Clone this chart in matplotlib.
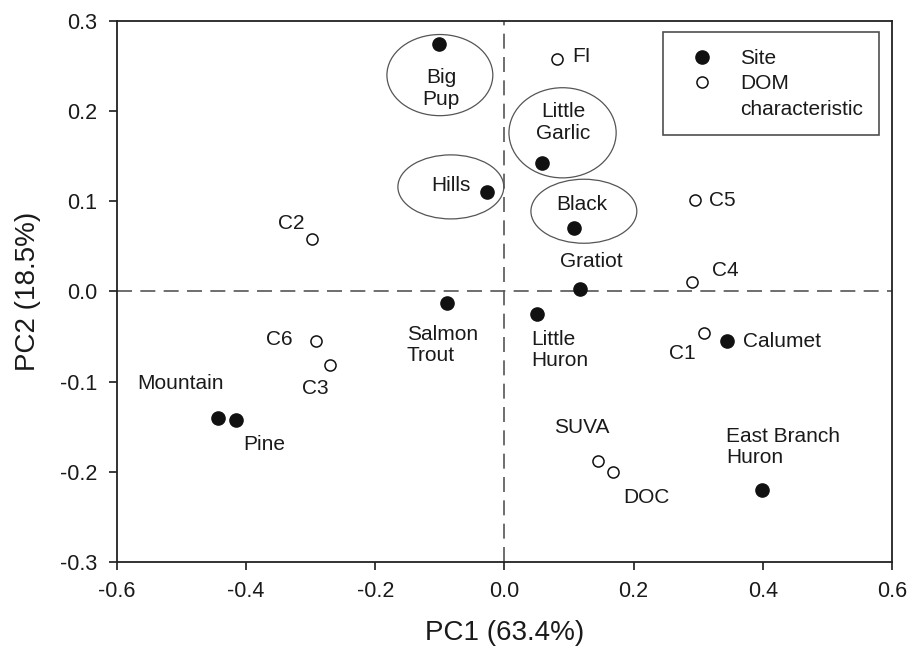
import matplotlib.pyplot as plt
from matplotlib.patches import Ellipse

plt.rcParams['font.family'] = ['Liberation Sans', 'DejaVu Sans']

# site scores
site_names = ["Big\nPup", "Little\nGarlic", "Hills", "Black", "Gratiot", "Salmon\nTrout",
              "Little\nHuron", "Calumet", "Mountain", "Pine", "East Branch\nHuron"]
site_pc1 = [-0.101, 0.058, -0.027, 0.108, 0.117, -0.089, 0.050, 0.345, -0.444, -0.416, 0.399]
site_pc2 = [0.274, 0.142, 0.110, 0.070, 0.003, -0.013, -0.025, -0.055, -0.140, -0.143, -0.220]

# DOM characteristic loadings
dom_names = ["FI", "C5", "C2", "C4", "C1", "C6", "C3", "SUVA", "DOC"]
dom_pc1 = [0.081, 0.295, -0.298, 0.290, 0.309, -0.292, -0.270, 0.145, 0.168]
dom_pc2 = [0.258, 0.101, 0.058, 0.011, -0.046, -0.055, -0.082, -0.188, -0.200]

# label offsets in pixels (dx, dy, ha)
site_lab = [(2, -44, 'center'), (21, 41, 'center'), (-36, 7, 'center'), (8, 24, 'center'),
            (11, 27, 'center'), (-40, -42, 'left'), (-5, -36, 'left'), (16, 0, 'left'),
            (-37, 34, 'center'), (28, -24, 'center'), (-36, 43, 'left')]
dom_lab = [(16, 2, 'left'), (14, 0, 'left'), (-21, 16, 'center'), (20, 11, 'left'),
           (-22, -21, 'center'), (-37, 2, 'center'), (-15, -23, 'center'),
           (-16, 34, 'center'), (34, -26, 'center')]

# grouping ellipses (center x, center y, width, height)
groups = [(-0.100, 0.240, 0.164, 0.090), (0.090, 0.176, 0.166, 0.100),
          (-0.083, 0.116, 0.164, 0.071), (0.123, 0.089, 0.164, 0.071)]

txt = '#1a1a1a'
fig = plt.figure(figsize=(9.17, 6.5), dpi=100)
ax = fig.add_axes([0.1276, 0.1354, 0.845, 0.8323])

ax.axhline(0, color='#555555', lw=1.2, dashes=(9, 5), zorder=1)
ax.axvline(0, color='#555555', lw=1.2, dashes=(9, 5), zorder=1)

for cx, cy, w, h in groups:
    ax.add_patch(Ellipse((cx, cy), w, h, fill=False, ec='#555555', lw=0.9, zorder=1))

ax.plot(site_pc1, site_pc2, 'o', color='#111111', ms=9.5, ls='none', label='Site', zorder=3)
ax.plot(dom_pc1, dom_pc2, 'o', mfc='white', mec='#111111', mew=1.1, ms=8, ls='none',
        label='DOM', zorder=3)
ax.plot([], [], ls='none', marker='', label='characteristic')

for name, x, y, (dx, dy, ha) in zip(site_names, site_pc1, site_pc2, site_lab):
    ax.annotate(name, (x, y), xytext=(dx, dy), textcoords='offset pixels', ha=ha,
                va='center', fontsize=15, color=txt, linespacing=1.15)
for name, x, y, (dx, dy, ha) in zip(dom_names, dom_pc1, dom_pc2, dom_lab):
    ax.annotate(name, (x, y), xytext=(dx, dy), textcoords='offset pixels', ha=ha,
                va='center', fontsize=15, color=txt, linespacing=1.15)

ax.set_xlim(-0.6, 0.6)
ax.set_ylim(-0.3, 0.3)
ax.set_xticks([-0.6, -0.4, -0.2, 0.0, 0.2, 0.4, 0.6])
ax.set_yticks([-0.3, -0.2, -0.1, 0.0, 0.1, 0.2, 0.3])
ax.xaxis.set_major_formatter(plt.FormatStrFormatter('%.1f'))
ax.yaxis.set_major_formatter(plt.FormatStrFormatter('%.1f'))
ax.tick_params(direction='out', length=6, width=1.2, labelsize=15.5, colors=txt, pad=8)
for s in ax.spines.values():
    s.set_linewidth(1.3)
    s.set_color('#222222')

ax.set_xlabel('PC1 (63.4%)', fontsize=20, color=txt, labelpad=13)
ax.set_ylabel('PC2 (18.5%)', fontsize=20, color=txt, labelpad=14)

leg = ax.legend(loc='upper right', bbox_to_anchor=(0.984, 0.979), fontsize=15, frameon=True,
                fancybox=False, edgecolor='#222222', handletextpad=0.7, borderpad=0.8,
                labelspacing=0.3, handlelength=2.2, borderaxespad=0)
leg.get_frame().set_linewidth(1.2)
for t in leg.get_texts():
    t.set_color(txt)

fig.savefig('out.png', dpi=100)
